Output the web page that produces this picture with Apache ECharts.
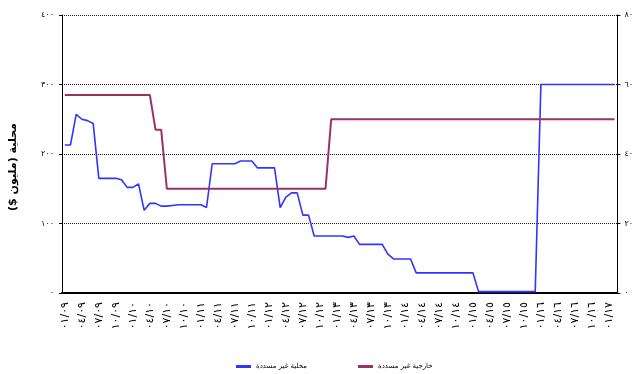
<!DOCTYPE html>
<html dir="rtl">
<head>
<meta charset="utf-8">
<script src="https://cdn.jsdelivr.net/npm/echarts@6/dist/echarts.min.js"></script>
<style>html,body{margin:0;padding:0;background:#fff}#c{width:636px;height:374px}</style>
</head>
<body>
<div id="c"></div>
<script>
// Monthly categories Jan 2009 .. Feb 2017
var startYear = 2009, startMonth = 1, monthCount = 98;
var categories = [];
for (var k = 0; k < monthCount; k++) {
  var m = (startMonth - 1 + k) % 12 + 1;
  var y = startYear + Math.floor((startMonth - 1 + k) / 12);
  categories.push((m < 10 ? '0' + m : '' + m) + '/' + String(y).slice(2));
}
var seriesNames = ['محلية غير مسددة', 'خارجية غير مسددة'];
// domestic (left axis)
var domestic = [213,213,257,250,248,244,165,165,165,165,
  163,152,152,157,119,129,129,125,125,126,
  127,127,127,127,127,123,186,186,186,186,
  186,190,190,190,180,180,180,180,123,138,
  144,144,112,112,82,82,82,82,82,82,
  80,82,70,70,70,70,70,56,49,49,
  49,49,29,29,29,29,29,29,29,29,
  29,29,29,2,2,2,2,2,2,2,
  2,2,2,2,300,300,300,300,300,300,
  300,300,300,300,300,300,300,300];
// external (right axis)
var external = [57,57,57,57,57,57,57,57,57,57,57,57,57,57,57,57,
  47,47,
  30,30,30,30,30,30,30,30,30,30,30,30,30,30,30,30,30,30,30,30,30,30,30,30,30,30,30,30,30,
  50,50,50,50,50,50,50,50,50,50,50,50,50,50,50,50,50,50,50,50,50,50,50,50,50,50,
  50,50,50,50,50,50,50,50,50,50,50,50,50,50,50,50,50,50,50,50,50,50,50,50,50];
var leftTicks = [0, 100, 200, 300, 400];
var rightTicks = [0, 20, 40, 60, 80];
var yTitle = 'محلية (مليون $)';

function ar(s) { return String(s).replace(/\d/g, function (d) { return '٠١٢٣٤٥٦٧٨٩'[+d]; }); }
var FONT = 'DejaVu Sans';
var chart = echarts.init(document.getElementById('c'), null, {renderer: 'canvas'});
chart.setOption({
  animation: false,
  backgroundColor: '#fff',
  textStyle: {fontFamily: FONT},
  grid: {left: 59, right: 15, top: 15, bottom: 81, containLabel: false},
  legend: [
    {data: [seriesNames[0]], left: 231, top: 358, itemWidth: 15, itemHeight: 3, icon: 'rect',
     textStyle: {fontFamily: FONT, fontSize: 7, color: '#000'}, itemGap: 4},
    {data: [seriesNames[1]], left: 353, top: 358, itemWidth: 15, itemHeight: 3, icon: 'rect',
     textStyle: {fontFamily: FONT, fontSize: 7, color: '#000'}, itemGap: 4}
  ],
  xAxis: {
    type: 'category', data: categories, boundaryGap: true,
    axisLine: {lineStyle: {color: '#000', width: 2}},
    axisTick: {inside: true, length: 4, interval: 0, lineStyle: {color: '#000', width: 1}},
    axisLabel: {rotate: 90, interval: 2, margin: 9, fontSize: 11, color: '#000', fontFamily: FONT,
      formatter: function (v) { return ar(v); }},
    splitLine: {show: false}
  },
  yAxis: [
    {type: 'value', min: leftTicks[0], max: leftTicks[leftTicks.length - 1], interval: 100,
     name: yTitle, nameLocation: 'middle', nameGap: 43, nameRotate: 90,
     nameTextStyle: {fontFamily: FONT, fontSize: 11, fontWeight: 'bold', color: '#000', padding: [0, 26, 0, 0]},
     axisLine: {show: true, lineStyle: {color: '#000', width: 1}},
     axisTick: {show: true, length: 3, lineStyle: {color: '#000'}},
     axisLabel: {fontSize: 8, color: '#000', margin: 8, formatter: function (v) { return ar(v); }},
     splitLine: {show: true, lineStyle: {color: '#222', type: [1, 1], width: 1}}},
    {type: 'value', min: rightTicks[0], max: rightTicks[rightTicks.length - 1], interval: 20, position: 'right',
     axisLine: {show: true, lineStyle: {color: '#000', width: 1}},
     axisTick: {show: true, length: 3, lineStyle: {color: '#000'}},
     axisLabel: {fontSize: 8, color: '#000', margin: 7, formatter: function (v) { return ar(v); }},
     splitLine: {show: false}}
  ],
  series: [
    {name: seriesNames[0], type: 'line', yAxisIndex: 0, data: domestic, symbol: 'none',
     itemStyle: {color: '#3333ff'}, lineStyle: {color: '#3333ff', width: 1.6}},
    {name: seriesNames[1], type: 'line', yAxisIndex: 1, data: external, symbol: 'none',
     itemStyle: {color: '#993366'}, lineStyle: {color: '#993366', width: 2}}
  ]
});
</script>
</body>
</html>
